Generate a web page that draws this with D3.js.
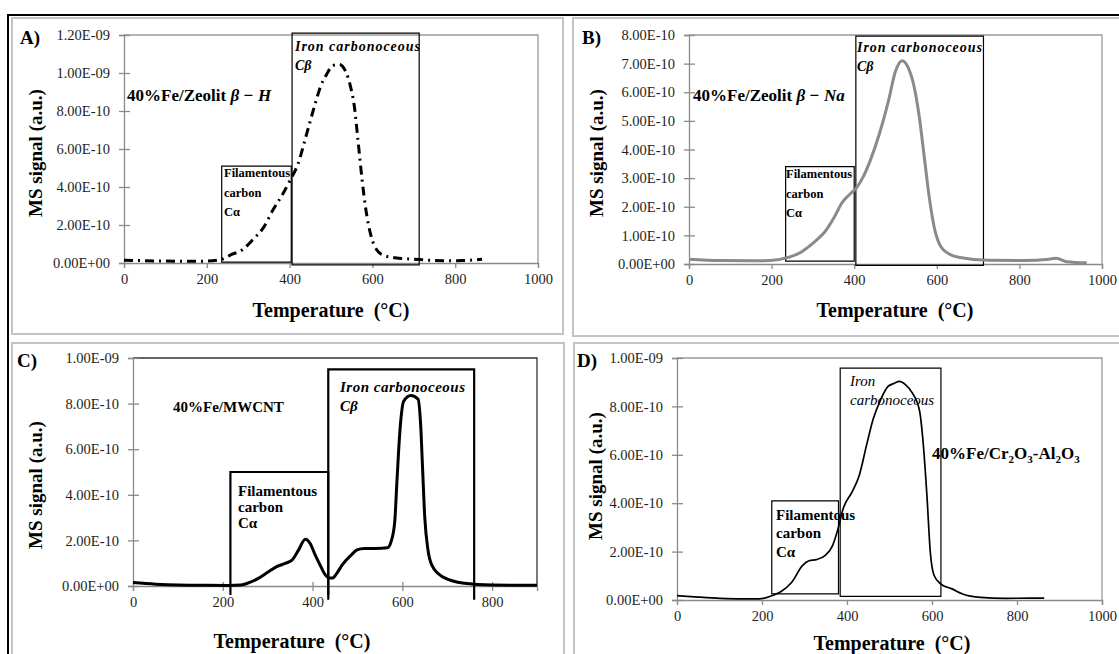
<!DOCTYPE html>
<html>
<head>
<meta charset="utf-8">
<script src="https://cdn.jsdelivr.net/npm/d3@7"></script>
<style>
  body { margin: 0; background: #fff; }
  svg { display: block; font-family: 'Liberation Serif', 'Times New Roman', serif; }
</style>
</head>
<body>
<div id="vizcontainer"></div>
<script>
const width = 1119,
  height = 654;

// signals are in units of 1E-10
const tempA = [0, 50, 100, 150, 200, 236, 260, 286, 312, 338, 360, 380, 400, 420, 440, 460, 475, 490, 505, 520, 535, 547, 556, 565, 575, 585, 597, 612, 630, 655, 700, 770, 820, 865];
const sigA = [0.15, 0.12, 0.1, 0.09, 0.1, 0.2, 0.45, 0.7, 1.25, 1.9, 2.8, 3.5, 4.3, 5.2, 6.7, 8.25, 9.3, 9.95, 10.4, 10.45, 10.1, 9.3, 8.3, 6.5, 4.4, 2.7, 1.4, 0.65, 0.38, 0.28, 0.2, 0.12, 0.13, 0.2];

const tempB = [0, 76, 150, 197, 240, 270, 292, 310, 327, 353, 370, 388, 405, 422, 439, 461, 483, 500, 516, 531, 545, 558, 570, 582, 595, 610, 630, 656, 725, 811, 872, 889, 915, 963];
const sigB = [0.17, 0.12, 0.11, 0.12, 0.23, 0.4, 0.63, 0.85, 1.09, 1.67, 2.13, 2.42, 2.65, 3.05, 3.62, 4.55, 5.7, 6.73, 7.1, 6.85, 6.2, 5.1, 3.7, 2.3, 1.2, 0.6, 0.35, 0.23, 0.13, 0.12, 0.17, 0.2, 0.08, 0.04];

const tempC = [0, 50, 101, 150, 213, 240, 252, 276, 300, 320, 340, 355, 368, 384, 395, 405, 416, 428, 438, 445, 452, 467, 487, 499, 515, 540, 567, 575, 583, 588, 595, 603, 619, 635, 641, 645, 650, 657, 666, 690, 738, 800, 900];
const sigC = [0.15, 0.08, 0.04, 0.03, 0.02, 0.04, 0.1, 0.3, 0.6, 0.85, 1.0, 1.15, 1.55, 2.05, 1.85, 1.4, 0.95, 0.5, 0.35, 0.35, 0.5, 0.95, 1.38, 1.58, 1.65, 1.65, 1.68, 1.95, 2.8, 4.6, 6.9, 8.1, 8.35, 8.2, 7.0, 5.2, 3.0, 1.6, 0.9, 0.4, 0.12, 0.04, 0.03];

const tempD = [0, 50, 102, 150, 194, 228, 245, 270, 295, 312, 328, 349, 366, 379, 391, 412, 429, 446, 462, 479, 496, 512, 523, 538, 554, 571, 579, 588, 596, 605, 621, 647, 672, 714, 772, 864];
const sigD = [0.18, 0.12, 0.07, 0.05, 0.05, 0.21, 0.35, 0.73, 1.42, 1.63, 1.67, 1.84, 2.25, 2.95, 3.78, 4.47, 5.16, 6.4, 7.5, 8.27, 8.82, 8.96, 9.03, 8.89, 8.55, 7.79, 6.54, 4.33, 1.98, 1.01, 0.66, 0.46, 0.25, 0.11, 0.07, 0.08];

// tick values
const xTicks1000 = [0, 200, 400, 600, 800, 1000];
const xTicks800 = [0, 200, 400, 600, 800];
const yTicksA = [0, 2, 4, 6, 8, 10, 12];
const yTicksB = [0, 1, 2, 3, 4, 5, 6, 7, 8];
const yTicks10 = [0, 2, 4, 6, 8, 10];

// region boxes: [T start, T end, signal bottom, signal top]
const boxesA = [[236, 404, 0.05, 5.1], [406, 713, -0.1, 12.1]];
const boxesB = [[234, 400, 0.1, 3.4], [404, 713, -0.05, 7.96]];
const boxesC = [[217, 435, -0.4, 5.0], [435, 760, -0.6, 9.5]];
const boxesD = [[223, 380, 0.25, 4.1], [384, 621, 0.15, 9.58]];


const viz = d3.select('#vizcontainer')
  .append('svg')
  .attr('width', width)
  .attr('height', height);

viz.append('rect').attr('width', width).attr('height', height).attr('fill', '#fff');

// outer frame
viz.append('path')
  .attr('d', 'M8,654 L8,15 L1119,15')
  .attr('fill', 'none')
  .attr('stroke', '#000')
  .attr('stroke-width', 2);

// panel frames
[[12, 18, 551, 316], [573, 18, 560, 318], [12, 343, 552, 320], [574, 343, 560, 320]].forEach(r => {
  viz.append('rect')
    .attr('x', r[0]).attr('y', r[1]).attr('width', r[2]).attr('height', r[3])
    .attr('fill', 'none').attr('stroke', '#c4c4c4').attr('stroke-width', 2);
});

function fmtE(v) {
  const val = v * 1e-10;
  if (val === 0) return '0.00E+00';
  let e = Math.floor(Math.log10(Math.abs(val)) + 1e-9);
  let m = val / Math.pow(10, e);
  if (m >= 9.995) { m /= 10; e += 1; }
  return m.toFixed(2) + 'E' + (e < 0 ? '-' : '+') + String(Math.abs(e)).padStart(2, '0');
}

const panels = [
  { temp: tempA, sig: sigA, xMax: 1000, xTicks: xTicks1000, yMax: 12, yTicks: yTicksA, boxes: boxesA,
    L: 124, R: 538, T: 35, B: 263, stroke: '#000', sw: 3, dash: '9,5,2,5', frame: '#9a9a9a', boxW: 1.2,
    label: 'A)', lx: 20, ly: 44, xt: [331, 317], yt: [42, 153] },
  { temp: tempB, sig: sigB, xMax: 1000, xTicks: xTicks1000, yMax: 8, yTicks: yTicksB, boxes: boxesB,
    L: 689, R: 1102, T: 35, B: 264, stroke: '#8a8a8a', sw: 3, dash: null, frame: '#9a9a9a', boxW: 1.2,
    label: 'B)', lx: 582, ly: 44, xt: [895, 317], yt: [603, 153] },
  { temp: tempC, sig: sigC, xMax: 900, xTicks: xTicks800, yMax: 10, yTicks: yTicks10, boxes: boxesC,
    L: 133, R: 537, T: 358, B: 586, stroke: '#000', sw: 3, dash: null, frame: '#333', boxW: 2.2,
    label: 'C)', lx: 17, ly: 367, xt: [292, 648], yt: [42, 485], openBoxes: true },
  { temp: tempD, sig: sigD, xMax: 1000, xTicks: xTicks1000, yMax: 10, yTicks: yTicks10, boxes: boxesD,
    L: 677, R: 1102, T: 358, B: 600, stroke: '#000', sw: 1.7, dash: null, frame: '#9a9a9a', boxW: 1.2,
    label: 'D)', lx: 577, ly: 367, xt: [892, 650], yt: [602, 476] }
];

panels.forEach(p => {
  const x = d3.scaleLinear().domain([0, p.xMax]).range([p.L, p.R]);
  const y = d3.scaleLinear().domain([0, p.yMax]).range([p.B, p.T]);
  const g = viz.append('g');

  // plot area frame (top & right)
  g.append('path')
    .attr('d', `M${p.L},${p.T} L${p.R},${p.T} L${p.R},${p.B}`)
    .attr('fill', 'none').attr('stroke', p.frame).attr('stroke-width', 1.3);

  const yAx = g.append('g')
    .attr('transform', `translate(${p.L},0)`)
    .call(d3.axisLeft(y).tickValues(p.yTicks).tickFormat(fmtE).tickSize(5).tickPadding(9));
  yAx.selectAll('.tick line').attr('x1', 6);
  const xAx = g.append('g')
    .attr('transform', `translate(0,${p.B})`)
    .call(d3.axisBottom(x).tickValues(p.xTicks).tickFormat(d3.format('d')).tickSize(5).tickPadding(6));
  if (p.openBoxes) xAx.selectAll('.tick line').attr('y1', -4);
  [yAx, xAx].forEach(a => {
    a.select('.domain').attr('stroke', '#8a8a8a').attr('stroke-width', 1.3);
    a.selectAll('.tick line').attr('stroke', '#8a8a8a').attr('stroke-width', 1.3);
    a.selectAll('.tick text')
      .attr('fill', '#1e1e1e')
      .style('font-family', "'Liberation Serif', serif")
      .style('font-size', '14.5px');
  });

  // region boxes
  p.boxes.forEach(b => {
    const x0 = x(b[0]), x1 = x(b[1]), y0 = y(b[2]), y1 = y(b[3]);
    g.append('path')
      .attr('d', p.openBoxes
        ? `M${x0},${y0} L${x0},${y1} L${x1},${y1} L${x1},${y0}`
        : `M${x0},${y0} L${x0},${y1} L${x1},${y1} L${x1},${y0} Z`)
      .attr('fill', 'none').attr('stroke', '#000').attr('stroke-width', p.boxW);
  });

  g.append('path')
    .datum(p.temp.map((t, i) => [t, p.sig[i]]))
    .attr('fill', 'none')
    .attr('stroke', p.stroke)
    .attr('stroke-width', p.sw)
    .attr('stroke-dasharray', p.dash)
    .attr('stroke-linejoin', 'round')
    .attr('d', d3.line()
      .x(d => x(d[0]))
      .y(d => y(d[1]))
      .curve(d3.curveMonotoneX)
    );

  g.append('text').attr('x', p.lx).attr('y', p.ly)
    .style('font-size', '19px').style('font-weight', 'bold').text(p.label);

  g.append('text').attr('x', p.xt[0]).attr('y', p.xt[1])
    .attr('text-anchor', 'middle')
    .style('font-size', '20px').style('font-weight', 'bold')
    .text('Temperature\u00a0\u00a0(°C)');

  g.append('text')
    .attr('transform', `translate(${p.yt[0]},${p.yt[1]}) rotate(-90)`)
    .attr('text-anchor', 'middle')
    .style('font-size', '19px').style('font-weight', 'bold')
    .text('MS signal (a.u.)');
});

// annotations
function label(xp, yp, txt, size, weight, style) {
  return viz.append('text').attr('x', xp).attr('y', yp)
    .style('font-size', size + 'px')
    .style('font-weight', weight)
    .style('font-style', style || 'normal')
    .text(txt);
}

function sample(xp, yp, main, ital) {
  const t = label(xp, yp, main, 17, 'bold');
  t.append('tspan').style('font-style', 'italic').text(ital);
}

// A
sample(127, 101, '40%Fe/Zeolit ', 'β − H');
label(224, 177, 'Filamentous', 12.5, 'bold').attr('textLength', 66);
label(224, 197, 'carbon', 12.5, 'bold');
label(224, 216, 'Cα', 12.5, 'bold');
label(295, 51, 'Iron carbonoceous', 14, 'bold', 'italic').attr('textLength', 125);
label(295, 70, 'Cβ', 14, 'bold', 'italic');

// B
sample(693, 101, '40%Fe/Zeolit ', 'β − Na');
label(786, 178, 'Filamentous', 12.5, 'bold').attr('textLength', 66);
label(786, 198, 'carbon', 12.5, 'bold');
label(786, 217, 'Cα', 12.5, 'bold');
label(857, 52, 'Iron carbonoceous', 14, 'bold', 'italic').attr('textLength', 125);
label(857, 71, 'Cβ', 14, 'bold', 'italic');

// C
label(173, 412, '40%Fe/MWCNT', 15, 'bold');
label(238, 496, 'Filamentous', 15, 'bold');
label(238, 512, 'carbon', 15, 'bold');
label(238, 528, 'Cα', 15, 'bold');
label(340, 392, 'Iron carbonoceous', 15, 'bold', 'italic').attr('textLength', 125);
label(340, 411, 'Cβ', 15, 'bold', 'italic');

// D
label(776, 520, 'Filamentous', 15, 'bold');
label(776, 538, 'carbon', 15, 'bold');
label(776, 557, 'Cα', 15, 'bold');
label(850, 386, 'Iron', 15, 'normal', 'italic');
label(850, 405, 'carbonoceous', 15, 'normal', 'italic');
const dl = label(932, 459, '40%Fe/Cr', 17, 'bold');
[['2', true], ['O', false], ['3', true], ['-Al', false], ['2', true], ['O', false], ['3', true]].forEach(s => {
  dl.append('tspan')
    .attr('dy', s[1] ? 4 : -4)
    .style('font-size', s[1] ? '11px' : '17px')
    .text(s[0]);
});
</script>
</body>
</html>
